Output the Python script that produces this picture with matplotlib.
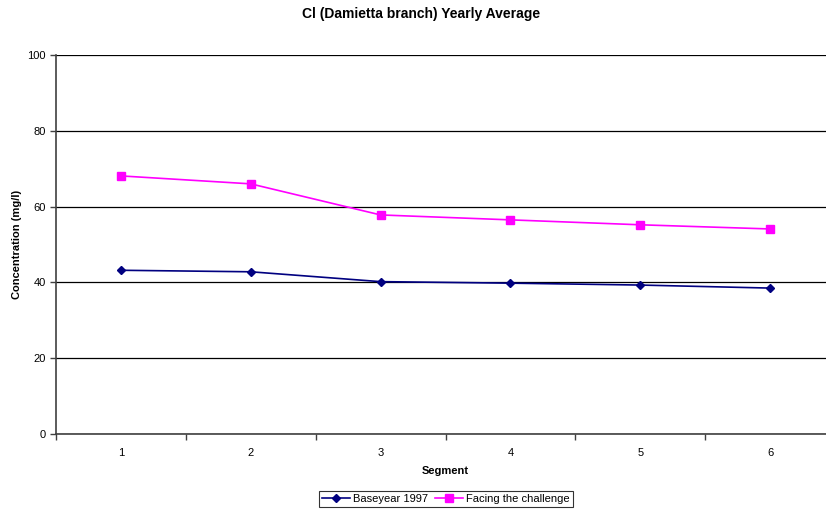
import numpy as np
import matplotlib.pyplot as plt

plt.rcParams['font.family'] = ['Liberation Sans', 'DejaVu Sans']

segments = [1, 2, 3, 4, 5, 6]
baseyear_1997 = [43.2, 42.8, 40.2, 39.8, 39.3, 38.5]
facing_challenge = [68.1, 66.0, 57.8, 56.5, 55.2, 54.1]

fig = plt.figure(figsize=(8.26, 5.12), dpi=100)
ax = fig.add_axes([56 / 826, 78 / 512, 779 / 826, 379 / 512])

ax.plot(segments, baseyear_1997, color="#000080", marker="D", markersize=4.5, lw=1.2,
        label="Baseyear 1997")
ax.plot(segments, facing_challenge, color="#FF00FF", marker="s", markersize=5.5, lw=1.2,
        label="Facing the challenge")

ax.set_xlim(0.5, 6.5)
ax.set_ylim(0, 100)
ax.set_yticks([0, 20, 40, 60, 80, 100])
ax.set_xticks(segments)
ax.set_xticks(np.arange(0.5, 7, 1), minor=True)
ax.tick_params(axis="x", which="major", length=0, pad=10, labelsize=8)
ax.tick_params(axis="x", which="minor", length=4, width=1, color="#404040")
ax.tick_params(axis="y", length=4, width=1, color="#404040", labelsize=8)
ax.yaxis.grid(True, color="black", lw=0.9)
ax.set_axisbelow(True)
for s in ["top", "right"]:
    ax.spines[s].set_visible(False)
for s in ["left", "bottom"]:
    ax.spines[s].set_color("#404040")
    ax.spines[s].set_linewidth(1.2)

ax.set_xlabel("Segment", fontsize=8, fontweight="bold", labelpad=6)
ax.set_ylabel("Concentration (mg/l)", fontsize=8, fontweight="bold", labelpad=3.5)
fig.text(421 / 826, 1 - 14 / 512, "Cl (Damietta branch) Yearly Average", ha="center", va="center",
         fontsize=10, fontweight="bold")

leg = fig.legend(loc="center", bbox_to_anchor=(446 / 826, 1 - 499 / 512), ncol=2, fontsize=8,
                 frameon=True, fancybox=False, edgecolor="black", handlelength=2.5,
                 columnspacing=0.6, handletextpad=0.3, borderpad=0.3)
leg.get_frame().set_linewidth(0.8)

plt.savefig("out.png", dpi=100)
